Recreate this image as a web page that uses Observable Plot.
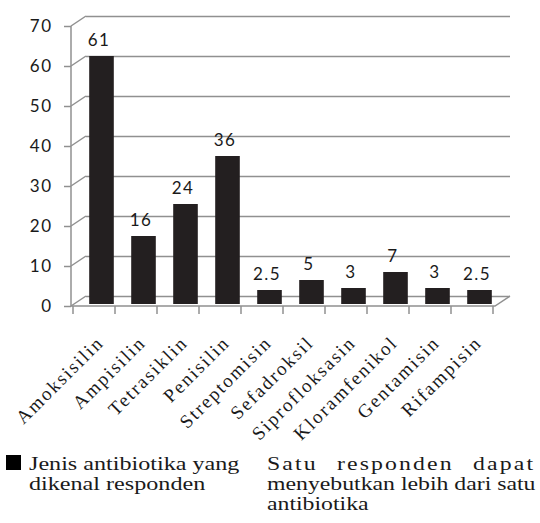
<!DOCTYPE html>
<html>
<head>
<meta charset="utf-8">
<script src="https://cdn.jsdelivr.net/npm/d3@7"></script>
<script src="https://cdn.jsdelivr.net/npm/@observablehq/plot@0.6"></script>
<style>
  body { margin: 0; background: #fff; width: 540px; height: 523px; overflow: hidden; }
  #chart svg { display: block; }
  g[aria-label="y-axis tick label"] text { letter-spacing: 1.5px; }
  .legend { position: relative; height: 78px; font-family: 'Liberation Serif', serif; font-size: 19px;
            line-height: 20px; color: #1a1a1a; white-space: nowrap; }
  .sw { position: absolute; left: 6px; top: 10px; width: 15px; height: 15px; background: #000; }
  .c1 { position: absolute; left: 29px; top: 9px; transform: scaleX(1.27); transform-origin: 0 0; }
  .c2 { position: absolute; left: 267px; top: 9px; transform: scaleX(1.25); transform-origin: 0 0; }
  .l1 { letter-spacing: 1.7px; word-spacing: 9px; }
</style>
</head>
<body>
<div id="chart"></div>
<div class="legend">
  <div class="sw"></div>
  <div class="c1">Jenis antibiotika yang<br>dikenal responden</div>
  <div class="c2"><span class="l1">Satu responden dapat</span><br>menyebutkan lebih dari satu<br>antibiotika</div>
</div>
<script>
const categories = ["Amoksisilin", "Ampisilin", "Tetrasiklin", "Penisilin", "Streptomisin",
                    "Sefadroksil", "Siprofloksasin", "Kloramfenikol", "Gentamisin", "Rifampisin"];
const values = [61, 16, 24, 36, 2.5, 5, 3, 7, 3, 2.5];
const valueLabels = ["61", "16", "24", "36", "2.5", "5", "3", "7", "3", "2.5"];
const yTicks = [0, 10, 20, 30, 40, 50, 60, 70];

const data = categories.map((c, i) => ({name: c, value: values[i], label: valueLabels[i]}));

const GRID = "#909090";
const DX = 15, DY = -10;
const BDX = 7.5, BDY = -6;

function frame3d(index, scales, values, dims) {
  const x0 = dims.marginLeft, x1 = dims.width - dims.marginRight;
  const g = d3.create("svg:g").attr("stroke", GRID).attr("stroke-width", 1.5).attr("fill", "none");
  const y0 = scales.y(0), yTop = scales.y(yTicks[yTicks.length - 1]);
  for (const t of yTicks) {
    const y = scales.y(t);
    g.append("line").attr("x1", x0).attr("y1", y).attr("x2", x0 + DX).attr("y2", y + DY);
  }
  g.append("line").attr("x1", x0).attr("y1", yTop).attr("x2", x0).attr("y2", y0);
  g.append("path").attr("d", `M${x0},${y0}H${x1}l${DX},${DY}`);
  const bw = scales.x(categories[1]) - scales.x(categories[0]);
  const edges = categories.map(c => scales.x(c)).concat([scales.x(categories[categories.length - 1]) + bw]);
  for (const e of edges) {
    g.append("line").attr("x1", e).attr("y1", y0).attr("x2", e).attr("y2", y0 + 8);
  }
  return g.node();
}

const chart = Plot.plot({
  width: 540,
  height: 445,
  marginLeft: 71,
  marginRight: 45,
  marginTop: 26,
  marginBottom: 139,
  x: {domain: categories, padding: 0, axis: null},
  y: {domain: [0, 70]},
  style: {background: "#fff", color: "#1a1a1a"},
  marks: [
    Plot.ruleY(yTicks, {dx: DX, dy: DY, stroke: GRID, strokeWidth: 1.5}),
    frame3d,
    Plot.axisY(yTicks, {tickSize: 7, tickPadding: 12, stroke: GRID, strokeWidth: 1.5, fill: "#1a1a1a",
                        fontSize: 17, fontFamily: "Lato", tickFormat: d => String(d), label: null}),
    Plot.barY(data, {x: "name", y: "value", fill: "#231f20", insetLeft: 8.7, insetRight: 8.7,
                     insetBottom: -4, dx: BDX, dy: BDY}),
    Plot.text(data, {x: "name", y: "value", text: "label", lineAnchor: "bottom", dx: 4.5, dy: -17,
                     fontSize: 17, fontFamily: "Lato", fill: "#1a1a1a"}),
    Plot.text(categories, {x: d => d, frameAnchor: "bottom", rotate: -45, textAnchor: "end", lineAnchor: "middle",
                           dx: 6, dy: 33, fontSize: 19, fontFamily: "Liberation Serif", fill: "#1a1a1a"})
  ]
});
// letter spacing for the two text marks (value labels, then category labels)
const textGroups = chart.querySelectorAll('g[aria-label="text"]');
if (textGroups[0]) textGroups[0].style.letterSpacing = "1.5px";
if (textGroups[1]) textGroups[1].style.letterSpacing = "2px";
document.getElementById("chart").appendChild(chart);
</script>
</body>
</html>
